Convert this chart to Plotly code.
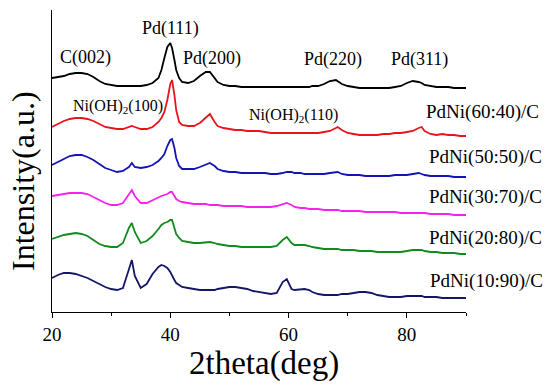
import plotly.graph_objects as go

# 2theta grid (deg)
two_theta = [20, 21, 22, 23, 24, 25, 26, 27, 28, 29,
             30, 31, 32, 33, 33.5, 34, 35, 36, 37, 38,
             38.5, 39, 39.5, 40, 40.3, 40.7, 41, 41.5, 42, 43,
             44, 45, 46, 46.7, 47.5, 48, 49, 50, 51, 52,
             53, 54, 55, 56, 57, 58, 59, 59.7, 60.5, 61,
             62, 62.7, 63.5, 64, 65, 66, 67, 68, 68.3, 69,
             70, 71, 72, 73, 74, 75, 76, 77, 78, 79,
             80, 81, 82, 82.5, 83, 84, 85, 86, 87, 88,
             89, 90]

# stacked intensities (a.u., offset already included)
pd_c = [234, 235, 236, 238, 239, 239, 238, 235, 231, 228,
        227, 226, 226, 226, 226, 226, 226, 227, 229, 234,
        242, 254, 265, 269, 264, 252, 242, 234, 230, 229,
        231, 236, 240, 240, 234, 230, 227, 226, 226, 225,
        225, 225, 225, 225, 225, 225, 225, 225, 225, 225,
        225, 225, 225, 226, 226, 228, 231, 232, 231, 228,
        226, 225, 224, 224, 224, 224, 224, 224, 225, 226,
        229, 231, 230, 229, 227, 226, 225, 225, 225, 224,
        224, 224]
pdni_60_40 = [185, 188, 191, 193, 194, 194, 193, 191, 188, 185,
              184, 183, 183, 185, 186, 185, 183, 183, 185, 190,
              194, 200, 212, 228, 232, 217, 202, 190, 187, 186,
              186, 189, 194, 198, 190, 186, 184, 183, 182, 182,
              181, 181, 181, 180, 179, 179, 179, 179, 179, 179,
              179, 179, 179, 179, 179, 180, 181, 184, 185, 182,
              179, 178, 177, 177, 177, 177, 178, 178, 179, 179,
              180, 181, 184, 185, 181, 178, 177, 178, 177, 177,
              176, 176]
pdni_50_50 = [147, 150, 153, 156, 157, 157, 155, 152, 148, 144,
              142, 140, 141, 145, 149, 145, 144, 145, 147, 151,
              154, 158, 166, 172, 173, 164, 154, 146, 143, 143,
              143, 145, 147, 149, 146, 143, 141, 140, 140, 139,
              139, 139, 139, 139, 138, 138, 139, 140, 140, 139,
              139, 138, 138, 138, 138, 138, 139, 140, 140, 138,
              137, 137, 137, 136, 136, 136, 136, 136, 137, 137,
              137, 138, 139, 138, 137, 136, 136, 136, 136, 135,
              135, 135]
pdni_30_70 = [116, 117, 118, 119, 119, 119, 118, 115, 112, 109,
              107, 107, 109, 117, 122, 116, 109, 109, 112, 115,
              116, 117, 118, 120, 120, 116, 113, 111, 110, 109,
              108, 108, 108, 107, 107, 107, 106, 106, 106, 106,
              105, 105, 105, 105, 105, 106, 108, 109, 107, 105,
              104, 104, 103, 103, 103, 102, 102, 102, 102, 101,
              101, 101, 101, 100, 100, 100, 100, 100, 100, 99,
              99, 99, 99, 99, 99, 98, 98, 98, 98, 97,
              97, 97]
pdni_20_80 = [73, 75, 77, 78, 79, 78, 76, 72, 68, 66,
              65, 65, 69, 84, 89, 80, 69, 71, 76, 83,
              87, 89, 90, 92, 92, 84, 78, 74, 71, 70,
              69, 69, 70, 70, 69, 68, 67, 66, 66, 65,
              65, 65, 65, 65, 65, 66, 72, 75, 69, 67,
              67, 67, 66, 65, 64, 63, 63, 63, 63, 62,
              62, 62, 61, 61, 61, 60, 60, 60, 60, 60,
              61, 62, 62, 62, 61, 60, 60, 59, 59, 59,
              58, 58]
pdni_10_90 = [34, 37, 39, 39, 38, 36, 34, 31, 28, 25,
              23, 22, 24, 44, 52, 36, 24, 28, 38, 45,
              47, 46, 44, 40, 36, 32, 29, 27, 25, 24,
              23, 22, 22, 22, 22, 23, 24, 25, 25, 24,
              23, 21, 20, 19, 18, 19, 30, 33, 23, 22,
              23, 23, 22, 20, 18, 17, 17, 17, 17, 18,
              18, 19, 20, 20, 19, 17, 16, 15, 15, 15,
              16, 16, 16, 16, 15, 15, 15, 14, 14, 14,
              14, 14]

series_names = ["Pd/C", "PdNi(60:40)/C", "PdNi(50:50)/C",
                "PdNi(30:70)/C", "PdNi(20:80)/C", "PdNi(10:90)/C"]
series_values = [pd_c, pdni_60_40, pdni_50_50, pdni_30_70, pdni_20_80, pdni_10_90]
series_colors = ["#000000", "#e8141c", "#1414b4", "#f522ee", "#118a1e", "#161668"]
# label anchor points (2theta, intensity)
series_label_x = [91.4, 82.9, 83.4, 83.4, 83.4, 83.6]
series_label_y = [241, 200, 155, 115, 74, 31]

peak_labels = ["C(002)", "Pd(111)", "Pd(200)", "Pd(220)", "Pd(311)"]
peak_label_x = [25.6, 40.0, 47.1, 67.5, 82.2]
peak_label_y = [255, 284, 254, 253, 253]

nioh_labels = ["Ni(OH)<sub>2</sub>(100)", "Ni(OH)<sub>2</sub>(110)"]
nioh_label_x = [23.2, 53.0]
nioh_label_y = [206, 197]

x_ticks = [20, 40, 60, 80]

FONT = "Liberation Serif"

fig = go.Figure()
for name, vals, col in zip(series_names, series_values, series_colors):
    fig.add_trace(go.Scatter(x=two_theta, y=vals, mode="lines", name=name,
                             line=dict(color=col, width=1.8), showlegend=False))

annotations = []
for t, x, y in zip(series_names, series_label_x, series_label_y):
    annotations.append(dict(text=t, x=x, y=y, xref="x", yref="y", xanchor="left",
                            yanchor="middle", showarrow=False,
                            font=dict(family=FONT, size=19, color="black")))
for t, x, y in zip(peak_labels, peak_label_x, peak_label_y):
    annotations.append(dict(text=t, x=x, y=y, xref="x", yref="y", xanchor="center",
                            yanchor="middle", showarrow=False,
                            font=dict(family=FONT, size=18, color="black")))
for t, x, y in zip(nioh_labels, nioh_label_x, nioh_label_y):
    annotations.append(dict(text=t, x=x, y=y, xref="x", yref="y", xanchor="left",
                            yanchor="middle", showarrow=False,
                            font=dict(family=FONT, size=16, color="black")))
annotations.append(dict(text="2theta(deg)", x=55.8, y=-0.172, xref="x", yref="paper",
                        xanchor="center", yanchor="middle", showarrow=False,
                        font=dict(family=FONT, size=33, color="black")))
annotations.append(dict(text="Intensity(a.u.)", x=-0.070, y=0.434, xref="paper", yref="paper",
                        xanchor="center", yanchor="middle", showarrow=False, textangle=-90,
                        font=dict(family=FONT, size=32, color="black")))

fig.update_layout(
    width=550, height=392,
    margin=dict(l=52, r=84, t=10, b=80),
    paper_bgcolor="white", plot_bgcolor="white",
    font=dict(family=FONT, color="black"),
    annotations=annotations,
    xaxis=dict(range=[20, 90], tickvals=x_ticks, ticktext=[str(v) for v in x_ticks],
               showgrid=False, zeroline=False, showline=True, linecolor="black", linewidth=1.2,
               ticks="outside", ticklen=5, tickwidth=1.2, tickcolor="black",
               ticklabelstandoff=0,
               minor=dict(tickvals=[30, 50, 70, 90], ticks="outside", ticklen=3,
                          tickwidth=1.2, tickcolor="black"),
               tickfont=dict(family=FONT, size=19, color="black")),
    yaxis=dict(range=[0, 302], showgrid=False, zeroline=False, showline=True,
               linecolor="black", linewidth=1.2, ticks="", showticklabels=False),
)

fig.write_html("out.html", config={"displayModeBar": False},
               post_script="document.body.style.margin='0';document.body.style.padding='0';")
